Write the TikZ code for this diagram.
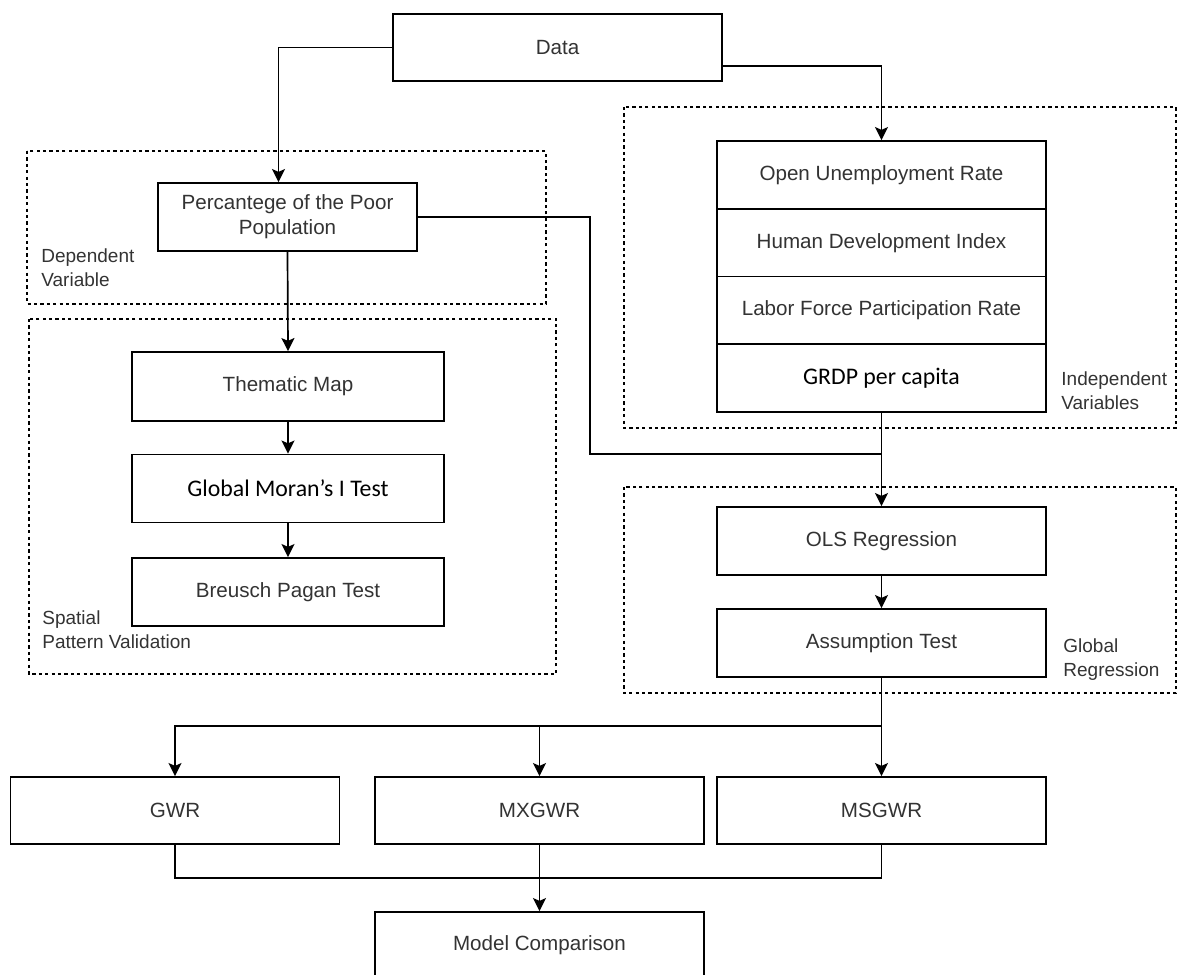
\documentclass[tikz,border=0pt]{standalone}
\usepackage{fontspec}
\setmainfont{Liberation Sans}
\newfontfamily\calibri{Carlito}
\usepackage{xcolor}
\usepackage{tikz}
\usetikzlibrary{arrows.meta,positioning}

\begin{document}
\begin{tikzpicture}[
    x=0.5pt, y=-0.5pt,
    box/.style={rectangle, draw, line width=0.95pt, fill=white,
                minimum width=164.5pt, minimum height=33.5pt,
                align=center, inner sep=2pt, text=black!80,
                font=\fontsize{10.3}{12.4}\selectfont},
    cbox/.style={box, text=black, font=\calibri\fontsize{11.9}{14}\selectfont},
    grp/.style={draw, line width=0.55pt, dash pattern=on 1.6pt off 1.6pt},
    glab/.style={anchor=west, align=left, inner sep=0pt, text=black!80,
                 font=\fontsize{9.5}{12}\selectfont},
    arr/.style={-{Stealth[length=6.5pt, width=6.5pt, inset=1.4pt]}, line width=0.85pt},
    lin/.style={line width=0.85pt},
  ]

  \clip (0,0) rectangle (1177,974);

  % ===== Groups =====
  \draw[grp] (27,151) rectangle (546,304);
  \node[glab] (deplab) at (41,268) {Dependent\\Variable};

  \draw[grp] (29,319) rectangle (556,674);
  \node[glab] (spalab) at (42,630) {Spatial\\Pattern Validation};

  \draw[grp] (624,107) rectangle (1176,428);
  \node[glab] (indlab) at (1061,391) {Independent\\Variables};

  \draw[grp] (624,487) rectangle (1176,693);
  \node[glab] (glolab) at (1063,660) {Global\\Regression};

  % ===== Data =====
  \node[box] (data) at (557.5,47.5) {Data};

  % ===== Dependent variable + spatial pattern =====
  \node[box, minimum width=129.5pt, minimum height=34pt] (poor) at (287.5,217)
       {Percantege of the Poor\\Population};
  \node[box, minimum width=156pt, minimum height=34.5pt] (thema) at (288,386.5) {Thematic Map};
  \node[cbox, minimum width=156pt, minimum height=34pt] (moran) at (288,488.5) {Global Moran’s I Test};
  \node[box, minimum width=156pt, minimum height=34pt] (breu) at (288,592) {Breusch Pagan Test};

  % ===== Independent variables =====
  \node[box, minimum height=34pt] (unemp) at (881.5,175) {Open Unemployment Rate};
  \node[box, minimum height=34pt] (hdi) at (881.5,243) {Human Development Index};
  \node[box, minimum height=34pt] (lfpr) at (881.5,310.5) {Labor Force Participation Rate};
  \node[cbox, minimum height=34pt] (grdp) at (881.5,378) {GRDP per capita};

  % ===== Global regression =====
  \node[box, minimum height=34pt] (ols) at (881.5,541) {OLS Regression};
  \node[box, minimum height=34pt] (assum) at (881.5,643) {Assumption Test};

  % ===== Local models =====
  \node[box] (gwr) at (175,810.5) {GWR};
  \node[box] (mxgwr) at (539.5,810.5) {MXGWR};
  \node[box] (msgwr) at (881.5,810.5) {MSGWR};
  \node[box] (model) at (539.5,945.5) {Model Comparison};

  % ===== Connectors =====
  \draw[arr] (data.west) -| ([xshift=-4.5pt]poor.north);
  \draw[arr] ([yshift=-9.25pt]data.east) -| (unemp.north);

  \draw[arr] (poor.south) -- (thema.north);
  \draw[arr] (thema) -- (moran);
  \draw[arr] (moran) -- (breu);

  \coordinate (pjog) at (590,454);
  \draw[lin] (poor.east) -| (pjog) -- (pjog -| ols.north);
  \draw[arr] (grdp.south) -- (ols.north);
  \draw[arr] (ols) -- (assum);

  \coordinate (split) at (881.5,726);
  \draw[arr] (assum.south) -- (msgwr.north);
  \draw[arr] (split) -| (gwr.north);
  \draw[arr] (split -| mxgwr.north) -- (mxgwr.north);

  \coordinate (merge) at (539.5,878);
  \draw[lin] (gwr.south) |- (merge) -| (msgwr.south);
  \draw[arr] (mxgwr.south) -- (model.north);

\end{tikzpicture}
\end{document}
